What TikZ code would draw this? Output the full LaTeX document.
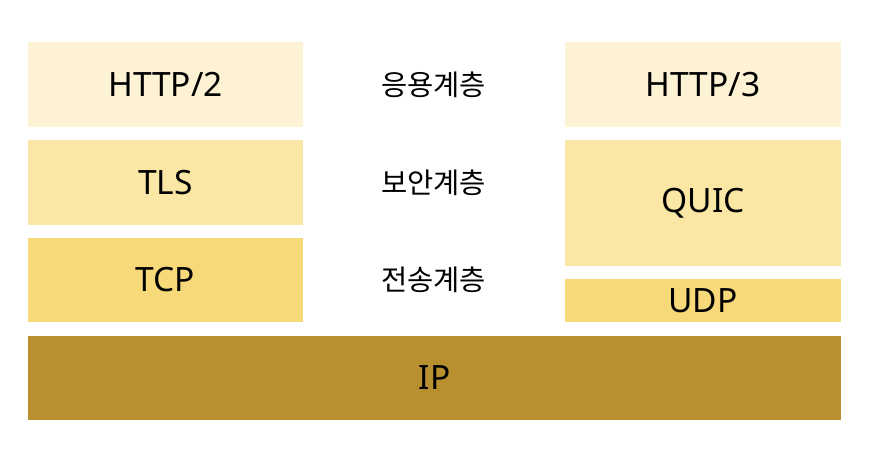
\documentclass[tikz,border=0pt]{standalone}
\usepackage{fontspec}
\setmainfont{Noto Sans}
\newfontfamily\krfont{Noto Sans CJK KR}
\definecolor{lone}{HTML}{FDF2D3}
\definecolor{ltwo}{HTML}{FAE6A5}
\definecolor{lthree}{HTML}{F7D97A}
\definecolor{lip}{HTML}{B89030}
\begin{document}
\begin{tikzpicture}[x=1pt,y=1pt,
  layer/.style={draw=none,inner sep=0pt,font=\fontsize{33.5}{38}\selectfont,text=black},
  lbl/.style={inner sep=0pt,font=\krfont\fontsize{28.5}{32}\selectfont,text=black}]
\useasboundingbox (0,0) rectangle (872,458);
\node[layer,fill=lone,minimum width=275pt,minimum height=85pt] (http2) at (165.5,373.5) {HTTP/2};
\node[layer,fill=ltwo,minimum width=275pt,minimum height=85pt] (tls) at (165.5,275.5) {TLS};
\node[layer,fill=lthree,minimum width=275pt,minimum height=84pt] (tcp) at (165.5,178) {TCP};
\node[layer,fill=lone,minimum width=276pt,minimum height=85pt] (http3) at (703,373.5) {HTTP/3};
\node[layer,fill=ltwo,minimum width=276pt,minimum height=126pt] (quic) at (703,255) {QUIC};
\node[layer,fill=lthree,minimum width=276pt,minimum height=43pt] (udp) at (703,157.5) {UDP};
\node[layer,fill=lip,minimum width=813pt,minimum height=84pt] (ip) at (434.5,80) {IP};
\node[lbl] (app) at (433.5,373) {응용계층};
\node[lbl] (sec) at (433.5,275) {보안계층};
\node[lbl] (trn) at (433.5,178) {전송계층};
\end{tikzpicture}
\end{document}
